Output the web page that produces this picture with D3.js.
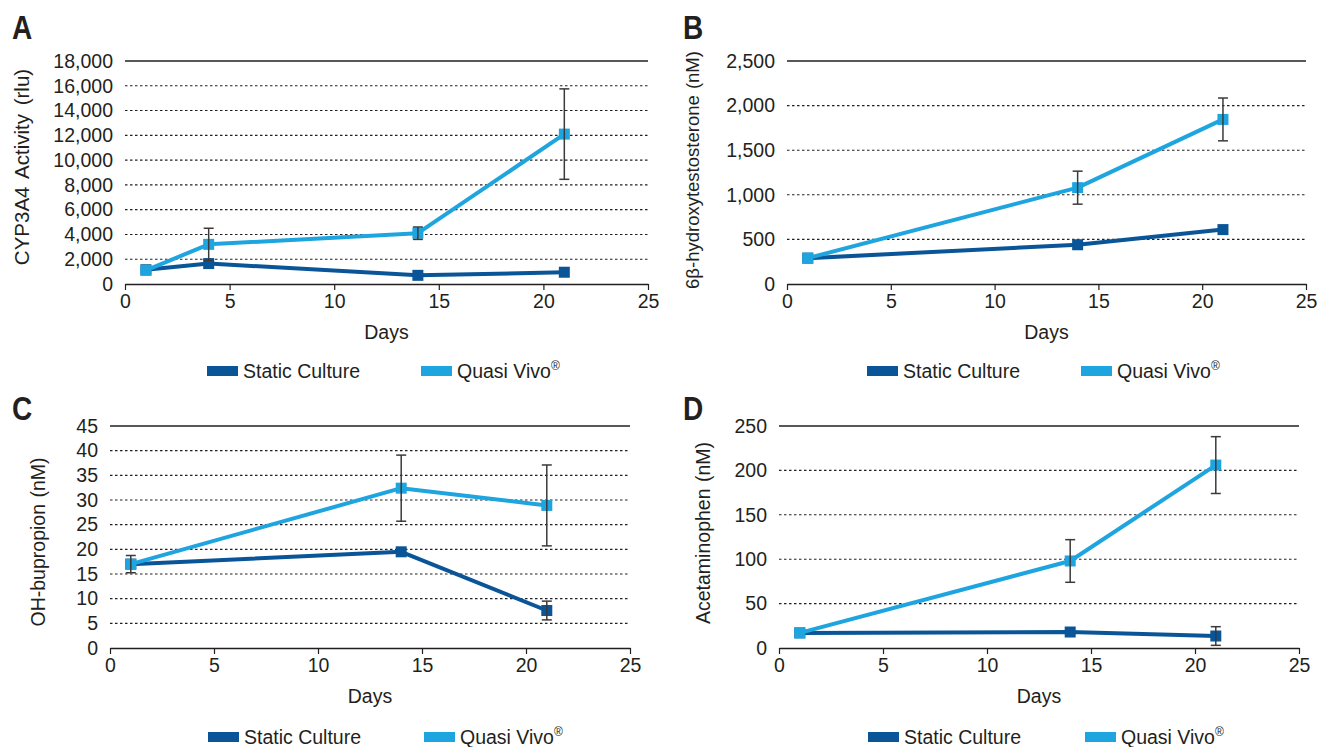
<!DOCTYPE html>
<html><head><meta charset="utf-8">
<script src="https://cdn.jsdelivr.net/npm/d3@7"></script>
<style>
body{margin:0;background:#fff}
svg{display:block}
text{font-family:"Liberation Sans",Arial,Helvetica,sans-serif;fill:#231f20}
</style>
</head><body>
<svg id="c" width="1318" height="747"></svg>
<script>
// ---------- data ----------
const xTicks = [0, 5, 10, 15, 20, 25];
const seriesNames = ["Static Culture", "Quasi Vivo"];

// Panel A: CYP3A4 activity
const daysA = [1, 4, 14, 21];
const staticA = [1150, 1650, 700, 950];
const staticErrA = [0, 0, 0, 0];
const quasiA = [1100, 3200, 4100, 12100];
const quasiErrA = [0, 1300, 500, 3650];
const yTicksA = [0, 2000, 4000, 6000, 8000, 10000, 12000, 14000, 16000, 18000];

// Panel B: 6β-hydroxytestosterone
const daysB = [1, 14, 21];
const staticB = [290, 440, 610];
const staticErrB = [0, 0, 0];
const quasiB = [290, 1080, 1845];
const quasiErrB = [0, 185, 240];
const yTicksB = [0, 500, 1000, 1500, 2000, 2500];

// Panel C: OH-bupropion
const daysC = [1, 14, 21];
const staticC = [17, 19.5, 7.6];
const staticErrC = [0, 0, 1.9];
const quasiC = [17, 32.4, 28.9];
const quasiErrC = [1.75, 6.7, 8.2];
const yTicksC = [0, 5, 10, 15, 20, 25, 30, 35, 40, 45];

// Panel D: Acetaminophen
const daysD = [1, 14, 21];
const staticD = [17, 18, 13.5];
const staticErrD = [0, 0, 10.5];
const quasiD = [17, 98, 206];
const quasiErrD = [0, 24, 32];
const yTicksD = [0, 50, 100, 150, 200, 250];

// ---------- layout ----------
const colStatic = "#0a5597";
const colQuasi = "#1ea5df";
const panels = [
  {letter:"A", title:"CYP3A4 Activity (rlu)", days:daysA, s:staticA, se:staticErrA, q:quasiA, qe:quasiErrA, ticks:yTicksA, fmt:d3.format(","),
   x0:125, x1:648, yb:284, yt:61, lx:12, ly:39, tx:21, tfs:20.5, tws:3, tcy:167, leg:[207,421], legY:371},
  {letter:"B", title:"6β-hydroxytestosterone (nM)", days:daysB, s:staticB, se:staticErrB, q:quasiB, qe:quasiErrB, ticks:yTicksB, fmt:d3.format(","),
   x0:787, x1:1306, yb:284, yt:61, lx:683, ly:39, tx:692, tfs:18.5, tws:1, tcy:170, leg:[867,1081], legY:371},
  {letter:"C", title:"OH-bupropion (nM)", days:daysC, s:staticC, se:staticErrC, q:quasiC, qe:quasiErrC, ticks:yTicksC, fmt:d3.format("d"),
   x0:110, x1:630, yb:648, yt:426, lx:12, ly:420, tx:38, tfs:19.5, tws:1, tcy:542, leg:[208,424], legY:737},
  {letter:"D", title:"Acetaminophen (nM)", days:daysD, s:staticD, se:staticErrD, q:quasiD, qe:quasiErrD, ticks:yTicksD, fmt:d3.format("d"),
   x0:779, x1:1299, yb:648, yt:426, lx:683, ly:420, tx:703, tfs:19.5, tws:1, tcy:533, leg:[868,1085], legY:737}
];

const svg = d3.select("#c");

panels.forEach(p => {
  const g = svg.append("g");
  const x = d3.scaleLinear().domain([0, 25]).range([p.x0, p.x1]);
  const yMax = p.ticks[p.ticks.length - 1];
  const y = d3.scaleLinear().domain([0, yMax]).range([p.yb, p.yt]);

  // panel letter
  g.append("text").attr("x", p.lx).attr("y", p.ly).attr("font-size", 33).attr("font-weight", "bold")
    .attr("transform", `translate(${p.lx},0) scale(0.85,1) translate(${-p.lx},0)`)
    .text(p.letter);

  // gridlines
  p.ticks.slice(1).forEach((t, i, arr) => {
    const top = i === arr.length - 1;
    g.append("line").attr("x1", p.x0).attr("x2", p.x1).attr("y1", y(t)).attr("y2", y(t))
      .attr("stroke", "#231f20").attr("stroke-width", top ? 1.3 : 1.1)
      .attr("stroke-dasharray", top ? null : "2.5,2.5");
  });

  // y axis labels (no axis line)
  const yAxis = d3.axisLeft(y).tickValues(p.ticks).tickFormat(p.fmt).tickSize(0).tickPadding(12);
  const ya = g.append("g").attr("transform", `translate(${p.x0},0)`).call(yAxis);
  ya.select(".domain").remove();
  ya.selectAll("text").attr("font-size", 19.5).attr("fill", "#231f20")
    .attr("font-family", '"Liberation Sans",Arial,sans-serif');

  // x axis
  const xAxis = d3.axisBottom(x).tickValues(xTicks).tickFormat(d3.format("d")).tickSizeInner(6).tickSizeOuter(0).tickPadding(4);
  const xa = g.append("g").attr("transform", `translate(0,${p.yb})`).call(xAxis);
  xa.select(".domain").attr("stroke", "#231f20").attr("stroke-width", 1.3);
  xa.selectAll(".tick line").attr("stroke", "#231f20").attr("stroke-width", 1.2);
  xa.selectAll("text").attr("font-size", 19.5).attr("fill", "#231f20")
    .attr("font-family", '"Liberation Sans",Arial,sans-serif');

  // axis titles
  g.append("text").attr("x", (p.x0 + p.x1) / 2).attr("y", p.yb + 55).attr("text-anchor", "middle")
    .attr("font-size", 19.5).text("Days");
  g.append("text").attr("transform", `translate(${p.tx},${p.tcy}) rotate(-90)`).attr("text-anchor", "middle")
    .attr("dominant-baseline", "central").attr("font-size", p.tfs).attr("word-spacing", p.tws).text(p.title);

  // series
  const line = d3.line().x(d => x(d[0])).y(d => y(d[1]));
  const series = [
    {vals: p.s, err: p.se, col: colStatic},
    {vals: p.q, err: p.qe, col: colQuasi}
  ];
  series.forEach(s => {
    const pts = p.days.map((d, i) => [d, s.vals[i]]);
    g.append("path").datum(pts).attr("d", line).attr("fill", "none")
      .attr("stroke", s.col).attr("stroke-width", 4).attr("stroke-linejoin", "round");
    g.selectAll(null).data(pts).enter().append("rect")
      .attr("x", d => x(d[0]) - 5.5).attr("y", d => y(d[1]) - 5.5)
      .attr("width", 11).attr("height", 11).attr("fill", s.col);
  });
  // error bars on top
  series.forEach(s => {
    p.days.forEach((d, i) => {
      const e = s.err[i];
      if (!e) return;
      const cx = x(d), hi = y(s.vals[i] + e), lo = y(s.vals[i] - e);
      const eg = g.append("g").attr("stroke", "#3a3a3a").attr("stroke-width", 1.5);
      eg.append("line").attr("x1", cx).attr("x2", cx).attr("y1", hi).attr("y2", lo);
      eg.append("line").attr("x1", cx - 5).attr("x2", cx + 5).attr("y1", hi).attr("y2", hi);
      eg.append("line").attr("x1", cx - 5).attr("x2", cx + 5).attr("y1", lo).attr("y2", lo);
    });
  });

  // legend
  const cols = [colStatic, colQuasi];
  p.leg.forEach((lx, i) => {
    g.append("rect").attr("x", lx).attr("y", p.legY - 5).attr("width", 31).attr("height", 10).attr("fill", cols[i]);
    const t = g.append("text").attr("x", lx + 36).attr("y", p.legY + 6.5).attr("font-size", 19.5).text(seriesNames[i]);
    if (i === 1) t.append("tspan").attr("font-size", 12).attr("dy", -8).text("®");
  });
});
</script>
</body></html>
